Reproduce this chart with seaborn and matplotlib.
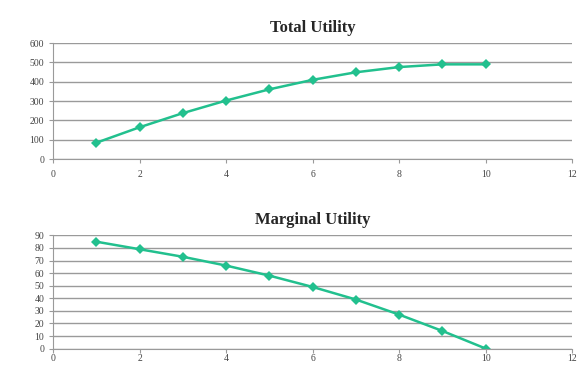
import matplotlib
matplotlib.use("Agg")
import matplotlib.pyplot as plt
import seaborn as sns
import pandas as pd

units = [1, 2, 3, 4, 5, 6, 7, 8, 9, 10]
total_utility = [85, 165, 238, 303, 361, 410, 449, 476, 490, 490]
marginal_utility = [85, 79, 73, 66, 58, 49, 39, 27, 14, 0]

df = pd.DataFrame({"Units": units, "TU": total_utility, "MU": marginal_utility})

sns.set_style("white")
plt.rcParams["font.family"] = ["Liberation Serif", "DejaVu Serif"]

line_col = "#22c08e"
grid_col = "#9a9a9a"

fig = plt.figure(figsize=(5.78, 3.65), dpi=100)
ax1 = fig.add_axes([0.092, 0.564, 0.898, 0.318])
ax2 = fig.add_axes([0.092, 0.045, 0.898, 0.31])

sns.lineplot(data=df, x="Units", y="TU", ax=ax1, color=line_col, marker="D",
             markersize=5, markeredgewidth=0, linewidth=1.8)
sns.lineplot(data=df, x="Units", y="MU", ax=ax2, color=line_col, marker="D",
             markersize=5, markeredgewidth=0, linewidth=1.8)

ax1.set_ylim(0, 600)
ax1.set_yticks(range(0, 601, 100))
ax2.set_ylim(0, 90)
ax2.set_yticks(range(0, 91, 10))

for ax, title in [(ax1, "Total Utility"), (ax2, "Marginal Utility")]:
    ax.set_xlim(0, 12)
    ax.set_xticks(range(0, 13, 2))
    ax.set_title(title, fontsize=12, fontweight="bold", pad=8)
    ax.set_xlabel("")
    ax.set_ylabel("")
    ax.yaxis.grid(True, color=grid_col, linewidth=1)
    ax.set_axisbelow(True)
    for s in ["top", "right"]:
        ax.spines[s].set_visible(False)
    for s in ["left", "bottom"]:
        ax.spines[s].set_color(grid_col)
    ax.tick_params(axis="both", labelsize=7, length=3,
                   direction="out", bottom=True, left=True, colors=grid_col)
    for lab in ax.get_xticklabels() + ax.get_yticklabels():
        lab.set_color("#444444")

ax1.tick_params(axis="x", pad=5)
ax2.tick_params(axis="x", pad=1)

fig.savefig("out.png", dpi=100)
